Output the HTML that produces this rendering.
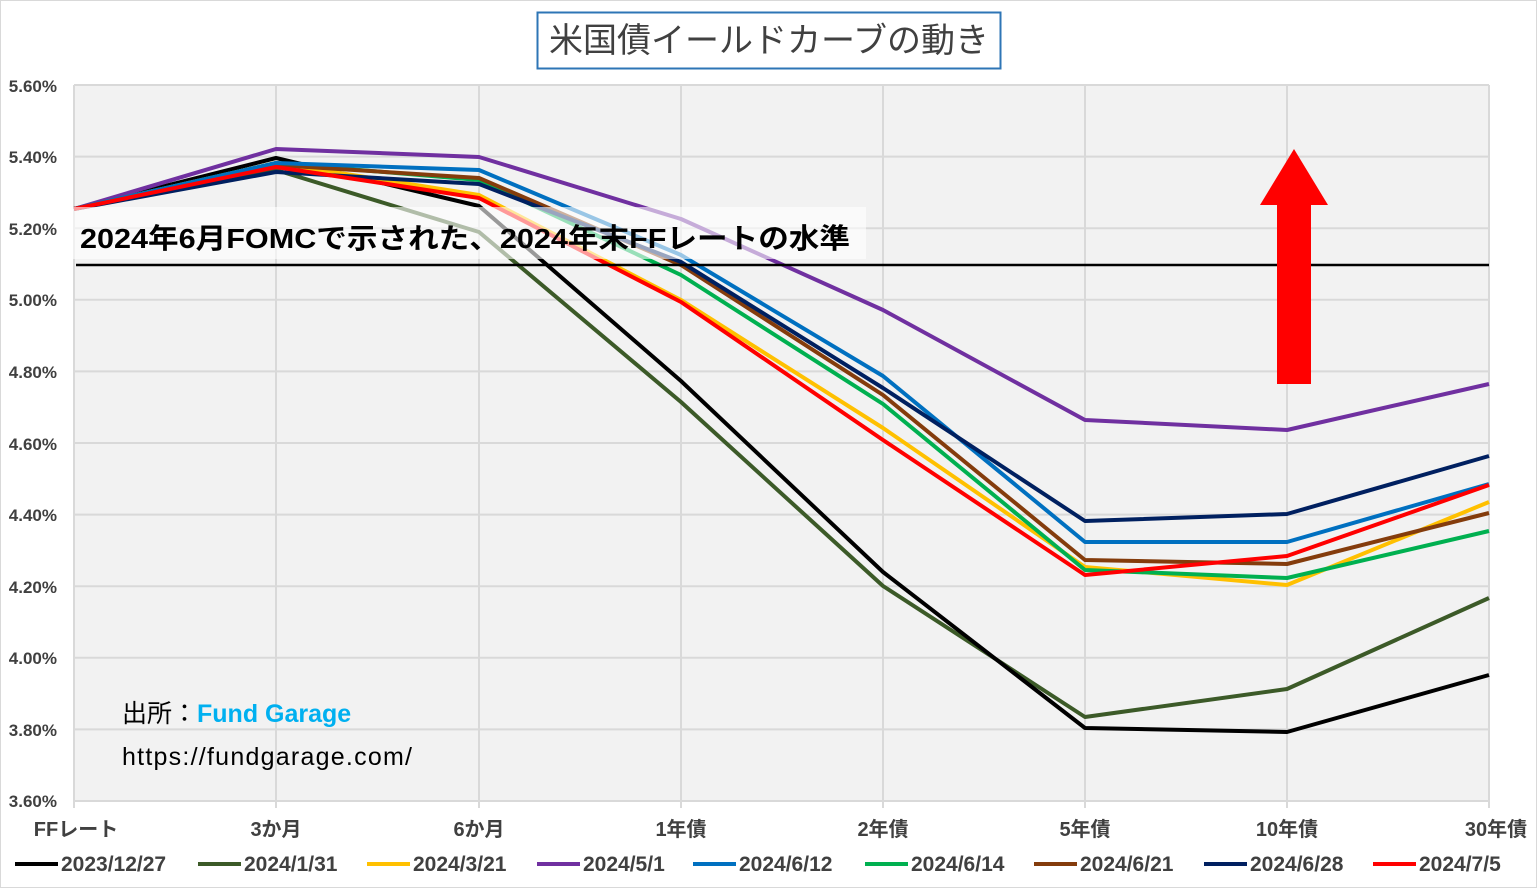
<!DOCTYPE html>
<html><head><meta charset="utf-8"><style>
html,body{margin:0;padding:0;background:#fff;}
svg{display:block;font-family:"Liberation Sans","Noto Sans CJK JP",sans-serif;}
</style></head><body>
<svg width="1537" height="888" viewBox="0 0 1537 888">
<rect x="0.5" y="0.5" width="1536" height="887" fill="#fff" stroke="#d9d9d9"/>
<rect x="74" y="85" width="1415" height="716" fill="#f2f2f2"/>
<g stroke="#d9d9d9" stroke-width="2">
<line x1="74" y1="85" x2="1489" y2="85"/><line x1="74" y1="156.6" x2="1489" y2="156.6"/>
<line x1="74" y1="228.2" x2="1489" y2="228.2"/><line x1="74" y1="299.8" x2="1489" y2="299.8"/>
<line x1="74" y1="371.4" x2="1489" y2="371.4"/><line x1="74" y1="443" x2="1489" y2="443"/>
<line x1="74" y1="514.6" x2="1489" y2="514.6"/><line x1="74" y1="586.2" x2="1489" y2="586.2"/>
<line x1="74" y1="657.8" x2="1489" y2="657.8"/><line x1="74" y1="729.4" x2="1489" y2="729.4"/>
<line x1="276" y1="85" x2="276" y2="808"/><line x1="479" y1="85" x2="479" y2="808"/>
<line x1="681" y1="85" x2="681" y2="808"/><line x1="883" y1="85" x2="883" y2="808"/>
<line x1="1085" y1="85" x2="1085" y2="808"/><line x1="1287" y1="85" x2="1287" y2="808"/>
<line x1="1489" y1="85" x2="1489" y2="808"/><line x1="74" y1="85" x2="74" y2="808"/>
<line x1="74" y1="801" x2="1489" y2="801"/>
</g>
<g font-size="17" fill="#404040" font-weight="bold" text-anchor="end">
<text x="57" y="92">5.60%</text><text x="57" y="163">5.40%</text><text x="57" y="235">5.20%</text>
<text x="57" y="306">5.00%</text><text x="57" y="378">4.80%</text><text x="57" y="450">4.60%</text>
<text x="57" y="521">4.40%</text><text x="57" y="593">4.20%</text><text x="57" y="664">4.00%</text>
<text x="57" y="736">3.80%</text><text x="57" y="807">3.60%</text>
</g>
<g font-size="20" fill="#404040" font-weight="bold" text-anchor="middle">
<text x="76" y="836">FFレート</text><text x="276" y="836">3か月</text><text x="479" y="836">6か月</text>
<text x="681" y="836">1年債</text><text x="883" y="836">2年債</text><text x="1085" y="836">5年債</text>
<text x="1287" y="836">10年債</text><text x="1496" y="836">30年債</text>
</g>
<g fill="none" stroke-width="4" stroke-linejoin="round">
<polyline stroke="#3c5a28" points="74,209 276,170 479,232 681,402 883,586 1085,717 1287,689 1489,598"/>
<polyline stroke="#000" points="74,209 276,158 479,206 681,381 883,572 1085,728 1287,732 1489,675"/>
<polyline stroke="#ffc000" points="74,209 276,163 479,195 681,300 883,428 1085,567 1287,585 1489,502"/>
<polyline stroke="#7030a0" points="74,209 276,149 479,157 681,219 883,310 1085,420 1287,430 1489,384"/>
<polyline stroke="#00b050" points="74,209 276,163 479,180 681,275 883,404 1085,570 1287,578 1489,531"/>
<polyline stroke="#843c0c" points="74,209 276,165 479,178 681,265 883,395 1085,560 1287,564 1489,513"/>
<polyline stroke="#0070c0" points="74,209 276,163 479,170 681,255 883,376 1085,542 1287,542 1489,484"/>
<polyline stroke="#002060" points="74,209 276,172 479,184 681,262 883,388 1085,521 1287,514 1489,456"/>
<polyline stroke="#ff0000" points="74,209 276,167 479,198 681,302 883,440 1085,575 1287,556 1489,485"/>
</g>
<rect x="66" y="207" width="800" height="52" fill="#fff" fill-opacity="0.6"/>
<text x="80" y="248" font-size="28" font-weight="bold" fill="#000" textLength="770" lengthAdjust="spacingAndGlyphs">2024年6月FOMCで示された、2024年末FFレートの水準</text>
<line x1="76" y1="265" x2="1489" y2="265" stroke="#000" stroke-width="2.5"/>
<rect x="1277" y="204" width="34" height="180" fill="#ff0000"/>
<polygon points="1260,205 1328,205 1294,149" fill="#ff0000"/>
<text x="122" y="722" font-size="25" fill="#000">出所：<tspan fill="#00b0f0" font-weight="bold">Fund Garage</tspan></text>
<text x="122" y="765" font-size="25" fill="#000" textLength="290">https://fundgarage.com/</text>
<rect x="537.5" y="12.5" width="463" height="56" fill="#fff" stroke="#2e75b6" stroke-width="2"/>
<text x="769" y="52" font-size="34" fill="#404040" text-anchor="middle">米国債イールドカーブの動き</text>
<g font-size="21" fill="#404040" font-weight="bold">
<line x1="15" y1="864" x2="58" y2="864" stroke="#000" stroke-width="4"/><text x="61" y="871">2023/12/27</text>
<line x1="198" y1="864" x2="241" y2="864" stroke="#3c5a28" stroke-width="4"/><text x="244" y="871">2024/1/31</text>
<line x1="367" y1="864" x2="410" y2="864" stroke="#ffc000" stroke-width="4"/><text x="413" y="871">2024/3/21</text>
<line x1="537" y1="864" x2="580" y2="864" stroke="#7030a0" stroke-width="4"/><text x="583" y="871">2024/5/1</text>
<line x1="693" y1="864" x2="736" y2="864" stroke="#0070c0" stroke-width="4"/><text x="739" y="871">2024/6/12</text>
<line x1="865" y1="864" x2="908" y2="864" stroke="#00b050" stroke-width="4"/><text x="911" y="871">2024/6/14</text>
<line x1="1034" y1="864" x2="1077" y2="864" stroke="#843c0c" stroke-width="4"/><text x="1080" y="871">2024/6/21</text>
<line x1="1204" y1="864" x2="1247" y2="864" stroke="#002060" stroke-width="4"/><text x="1250" y="871">2024/6/28</text>
<line x1="1373" y1="864" x2="1416" y2="864" stroke="#ff0000" stroke-width="4"/><text x="1419" y="871">2024/7/5</text>
</g>
</svg>
</body></html>
